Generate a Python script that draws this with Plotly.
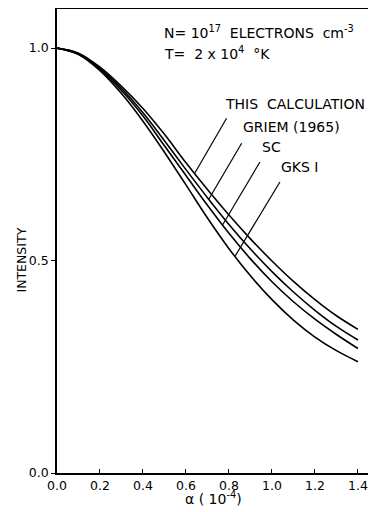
import numpy as np
import plotly.graph_objects as go

alpha = [0.0, 0.1, 0.2, 0.3, 0.4, 0.5, 0.6, 0.7, 0.8, 0.9, 1.0, 1.1, 1.2, 1.3, 1.4]
this_calc = [1.0, 0.988, 0.955, 0.910, 0.858, 0.797, 0.730, 0.667, 0.607, 0.551, 0.499, 0.451, 0.408, 0.370, 0.338]
griem_1965 = [1.0, 0.987, 0.952, 0.905, 0.848, 0.782, 0.714, 0.648, 0.585, 0.527, 0.474, 0.426, 0.383, 0.345, 0.313]
sc = [1.0, 0.986, 0.950, 0.900, 0.840, 0.770, 0.700, 0.630, 0.564, 0.504, 0.450, 0.403, 0.362, 0.326, 0.293]
gks_1 = [1.0, 0.985, 0.947, 0.893, 0.828, 0.755, 0.678, 0.600, 0.528, 0.464, 0.408, 0.360, 0.320, 0.288, 0.262]

series_names = ["THIS  CALCULATION", "GRIEM (1965)", "SC", "GKS I"]
series_values = [this_calc, griem_1965, sc, gks_1]

x_ticks = [0.0, 0.2, 0.4, 0.6, 0.8, 1.0, 1.2, 1.4]
x_tick_labels = ["0.0", "0.2", "0.4", "0.6", "0.8", "1.0", "1.2", "1.4"]
y_ticks = [0.0, 0.5, 1.0]
y_tick_labels = ["0.0", "0.5", "1.0"]

FONT = "DejaVu Sans"

fig = go.Figure()
for name, vals in zip(series_names, series_values):
    fig.add_trace(go.Scatter(x=alpha, y=vals, mode="lines", name=name,
                             line=dict(color="black", width=1.6, shape="spline", smoothing=1.0),
                             showlegend=False, hoverinfo="skip"))

# label layout: (text x, text y, leader top x, leader top y, alpha where leader meets curve)
label_pos = [
    (0.770, 0.846, 0.789, 0.835, 0.640),
    (0.855, 0.790, 0.859, 0.776, 0.706),
    (0.945, 0.744, 0.944, 0.732, 0.770),
    (1.035, 0.697, 1.037, 0.685, 0.828),
]
for name, vals, (tx, ty, lx, ly, la) in zip(series_names, series_values, label_pos):
    fig.add_annotation(x=tx, y=ty, xref="x", yref="y", text=name, showarrow=False,
                       xanchor="left", yanchor="bottom",
                       font=dict(family=FONT, size=14, color="black"))
    fig.add_shape(type="line", xref="x", yref="y", x0=lx, y0=ly,
                  x1=la, y1=float(np.interp(la, alpha, vals)),
                  line=dict(color="black", width=1.2))

fig.add_annotation(x=0.49, y=1.012, xref="x", yref="y", xanchor="left", yanchor="bottom",
                   text="N= 10<sup>17</sup>  ELECTRONS  cm<sup>-3</sup>", showarrow=False,
                   font=dict(family=FONT, size=14, color="black"))
fig.add_annotation(x=0.49, y=0.962, xref="x", yref="y", xanchor="left", yanchor="bottom",
                   text="T=  2 x 10<sup>4</sup>  °K", showarrow=False,
                   font=dict(family=FONT, size=14, color="black"))

# axis titles
fig.add_annotation(x=0.727, y=0, xref="x", yref="paper", xanchor="center", yanchor="top",
                   yshift=-14, text="α ( 10<sup>-4</sup>)", showarrow=False,
                   font=dict(family=FONT, size=14, color="black"))
fig.add_annotation(x=0, y=0.5, xref="paper", yref="y", xanchor="center", yanchor="middle",
                   xshift=-35, textangle=-90, text="INTENSITY", showarrow=False,
                   font=dict(family=FONT, size=12.5, color="black"))

# page body has an 8px margin: figure is sized/offset to fit the 376x512 window
fig.update_layout(
    width=368, height=504,
    margin=dict(l=49, r=0, t=1, b=39, autoexpand=False),
    paper_bgcolor="white", plot_bgcolor="white",
    font=dict(family=FONT, color="black", size=12),
    xaxis=dict(range=[0, 1.484], tickvals=x_ticks, ticktext=x_tick_labels,
               ticks="inside", ticklen=4, tickwidth=1.2, tickcolor="black",
               showline=True, linecolor="black", linewidth=1.5, mirror=True,
               showgrid=False, zeroline=False, automargin=False,
               tickfont=dict(family=FONT, size=12.5)),
    yaxis=dict(range=[0, 1.092], tickvals=y_ticks, ticktext=y_tick_labels,
               ticks="outside", ticklen=4, tickwidth=1.2, tickcolor="black",
               showline=True, linecolor="black", linewidth=1.5,
               showgrid=False, zeroline=False, automargin=False,
               tickfont=dict(family=FONT, size=12.5)),
)

fig.write_html("out.html")
